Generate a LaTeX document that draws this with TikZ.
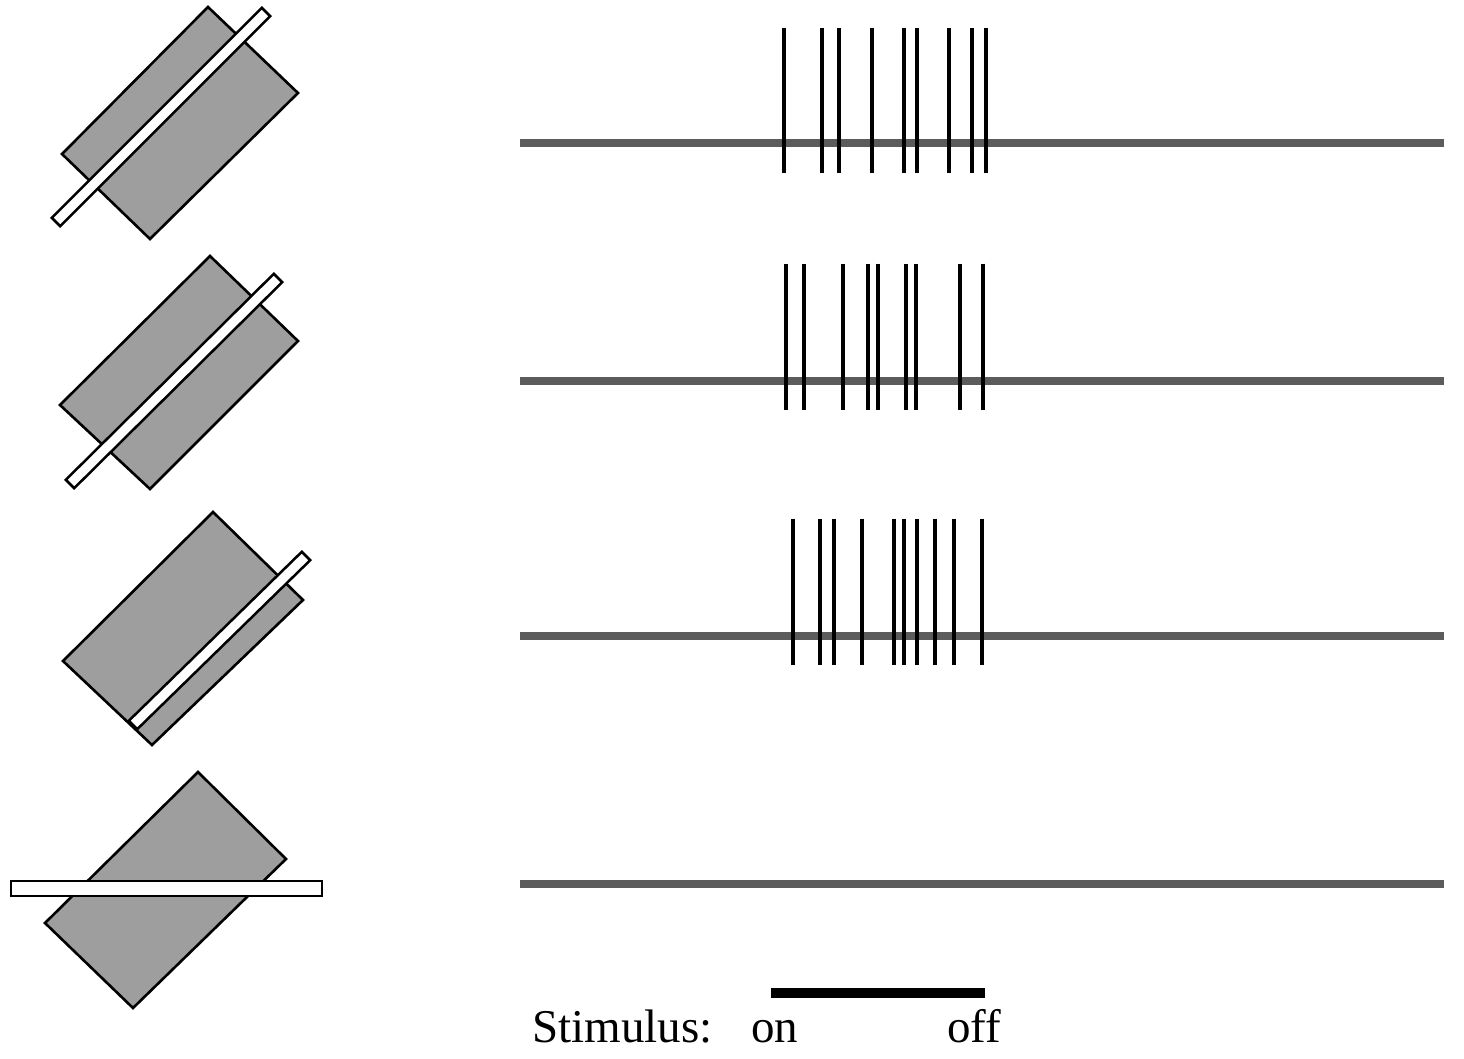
\documentclass[tikz,border=0pt]{standalone}
\usepackage{fontspec}
\setmainfont{Liberation Serif}
\begin{document}
\begin{tikzpicture}[x=1pt,y=-1pt,
  patch/.style={draw=black,line width=2.6pt,fill=black!38,line join=miter},
  barstim/.style={draw=black,line width=2.5pt,fill=white},
  trace/.style={draw=black!64,line width=8pt},
  spike/.style={draw=black,line width=3.8pt},
  stimbar/.style={draw=black,line width=10pt},
  lbl/.style={inner sep=0pt,anchor=base west,font=\fontsize{47}{56}\selectfont}]
\useasboundingbox[fill=white] (0,0) rectangle (1464,1058);

% ---- stimuli ----
\draw[patch] (208,7) -- (298,93) -- (150,239) -- (62,154) -- cycle;
\draw[barstim] (261.8,7.8) -- (270.2,16.2) -- (60.2,226.2) -- (51.8,217.8) -- cycle;

\draw[patch] (210,256) -- (298,341) -- (150,489) -- (60,405) -- cycle;
\draw[barstim] (273.8,273.8) -- (282.2,282.2) -- (74.2,488.2) -- (65.8,479.8) -- cycle;

\draw[patch] (213,512) -- (303,600) -- (152,745) -- (63,661) -- cycle;
\draw[barstim] (301.8,551.8) -- (310.2,560.2) -- (137.2,729.2) -- (128.8,720.8) -- cycle;

\draw[patch] (198,772) -- (286,859) -- (133,1008) -- (45,923) -- cycle;
\draw[barstim] (11,881) rectangle (322,896);

% ---- traces ----
\coordinate (t1a) at (520,142.5); \coordinate (t1b) at (1444,142.5);
\coordinate (t2a) at (520,380.5); \coordinate (t2b) at (1444,380.5);
\coordinate (t3a) at (520,635.5); \coordinate (t3b) at (1444,635.5);
\coordinate (t4a) at (520,884);   \coordinate (t4b) at (1444,884);
\draw[trace] (t1a) -- (t1b);
\draw[trace] (t2a) -- (t2b);
\draw[trace] (t3a) -- (t3b);
\draw[trace] (t4a) -- (t4b);

% ---- spikes ----
\foreach \x in {784.3,821.7,839.3,871.7,904,916.7,949,971.7,985.7}
  \draw[spike] (\x,27.5) -- (\x,173);
\foreach \x in {786,804.3,842.7,868.3,878.3,906,915.7,960,983.3}
  \draw[spike] (\x,263.5) -- (\x,410);
\foreach \x in {793.3,820,834,861.7,894,904,917,935,954.3,981.7}
  \draw[spike] (\x,518.5) -- (\x,665);

% ---- stimulus marker ----
\coordinate (son) at (771,993); \coordinate (soff) at (985,993);
\draw[stimbar] (son) -- (soff);
\node[lbl] (stim) at (532,1042) {Stimulus:};
\node[lbl] (on) at (751,1042) {on};
\node[lbl] (off) at (947,1042) {off};
\end{tikzpicture}
\end{document}
